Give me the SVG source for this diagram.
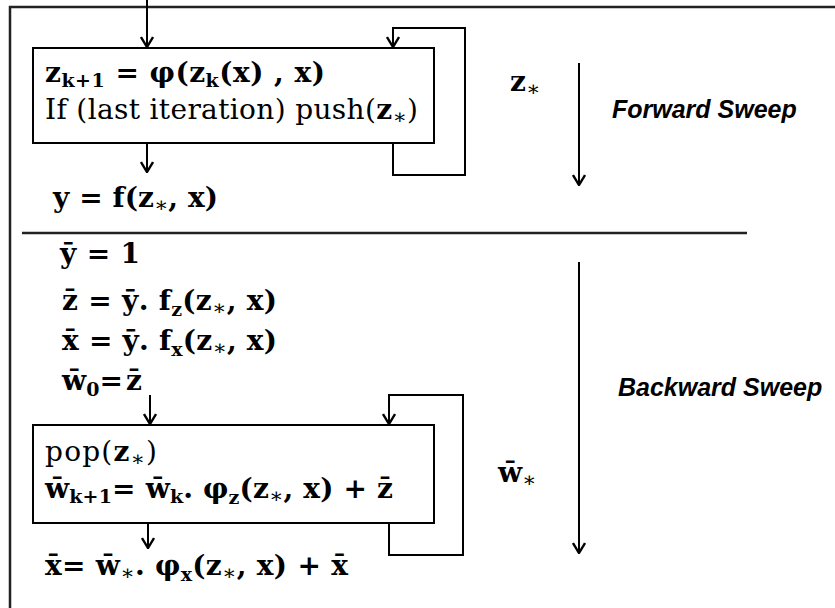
<svg xmlns="http://www.w3.org/2000/svg" width="835" height="608" viewBox="0 0 835 608">
<defs>
<marker id="ah" viewBox="0 0 12 14" refX="11" refY="7" markerWidth="12" markerHeight="14" markerUnits="userSpaceOnUse" orient="auto">
<polyline points="1,1 11,7 1,13" fill="none" stroke="#000" stroke-width="2.4"/>
</marker>
<style>
.m{font-family:"DejaVu Serif","Liberation Serif",serif;font-weight:bold;font-size:28px;fill:#000}
.r{font-weight:normal}
.s{font-size:19px}
.a{font-size:21px;font-weight:normal}
.lbl{font-family:"Liberation Sans",Arial,sans-serif;font-weight:bold;font-style:italic;font-size:25px;fill:#000}
.box{fill:#fff;stroke:#000;stroke-width:2}
.c{fill:none;stroke:#000;stroke-width:2}
</style>
</defs>
<rect x="10" y="7" width="840" height="620" fill="none" stroke="#222" stroke-width="2.5"/>
<line x1="22" y1="233" x2="747" y2="233" stroke="#222" stroke-width="2.5"/>
<g id="fwd-box">
<rect class="box" x="33" y="48" width="401" height="95"/>
<text class="m" x="45" y="82" textLength="280" lengthAdjust="spacing">z<tspan class="s" dy="5">k+1</tspan><tspan dy="-5"> = φ(z</tspan><tspan class="s" dy="5">k</tspan><tspan dy="-5">(x) , x)</tspan></text>
<text class="m r" x="45" y="119" textLength="373" lengthAdjust="spacing">If (last iteration) push(<tspan font-weight="bold">z</tspan><tspan class="a" dy="5">∗</tspan><tspan dy="-5">)</tspan></text>
</g>
<g id="fwd-out">
<text class="m" x="53" y="207" textLength="165" lengthAdjust="spacing">y = f(z<tspan class="a" dy="5">∗</tspan><tspan dy="-5">, x)</tspan></text>
</g>
<g id="fwd-label">
<text class="m" x="510" y="91">z<tspan class="a" dy="5">∗</tspan></text>
<text class="lbl" x="612" y="118">Forward Sweep</text>
</g>
<g id="bwd-init">
<text class="m" x="60" y="263" textLength="80" lengthAdjust="spacing">ȳ = 1</text>
<text class="m" x="62" y="310" textLength="215" lengthAdjust="spacing">z̄ = ȳ. f<tspan class="s" dy="6">z</tspan><tspan dy="-6">(z</tspan><tspan class="a" dy="5">∗</tspan><tspan dy="-5">, x)</tspan></text>
<text class="m" x="62" y="350" textLength="215" lengthAdjust="spacing">x̄ = ȳ. f<tspan class="s" dy="6">x</tspan><tspan dy="-6">(z</tspan><tspan class="a" dy="5">∗</tspan><tspan dy="-5">, x)</tspan></text>
<text class="m" x="62" y="390" textLength="80" lengthAdjust="spacing">w̄<tspan class="s" dy="6">0</tspan><tspan dy="-6">=</tspan><tspan dx="3">z̄</tspan></text>
</g>
<g id="bwd-box">
<rect class="box" x="33" y="425" width="401" height="98"/>
<text class="m r" x="45" y="461" textLength="112" lengthAdjust="spacing">pop(<tspan font-weight="bold">z</tspan><tspan class="a" dy="5">∗</tspan><tspan dy="-5">)</tspan></text>
<text class="m" x="45" y="498" textLength="348" lengthAdjust="spacing">w̄<tspan class="s" dy="5">k+1</tspan><tspan dy="-5">= w̄</tspan><tspan class="s" dy="5">k</tspan><tspan dy="-5">. φ</tspan><tspan class="s" dy="6">z</tspan><tspan dy="-6">(z</tspan><tspan class="a" dy="5">∗</tspan><tspan dy="-5">, x) +  z̄</tspan></text>
</g>
<g id="bwd-out">
<text class="m" x="45" y="575" textLength="303" lengthAdjust="spacing">x̄=  w̄<tspan class="a" dy="5">∗</tspan><tspan dy="-5">. φ</tspan><tspan class="s" dy="6">x</tspan><tspan dy="-6">(z</tspan><tspan class="a" dy="5">∗</tspan><tspan dy="-5">, x) +  x̄</tspan></text>
</g>
<g id="bwd-label">
<text class="m" x="498" y="482">w̄<tspan class="a" dy="5">∗</tspan></text>
<text class="lbl" x="618" y="396">Backward Sweep</text>
</g>
<g id="connectors">
<path class="c" d="M147,0 V47" marker-end="url(#ah)"/>
<path class="c" d="M393,143 V175 H465 V28 H393 V47" marker-end="url(#ah)"/>
<path class="c" d="M147,143 V172" marker-end="url(#ah)"/>
<path class="c" d="M579,63 V185" marker-end="url(#ah)"/>
<path class="c" d="M150,395 V424" marker-end="url(#ah)"/>
<path class="c" d="M389,523 V555 H463 V395 H389 V424" marker-end="url(#ah)"/>
<path class="c" d="M148,523 V548" marker-end="url(#ah)"/>
<path class="c" d="M579,262 V553" marker-end="url(#ah)"/>
</g>
</svg>
